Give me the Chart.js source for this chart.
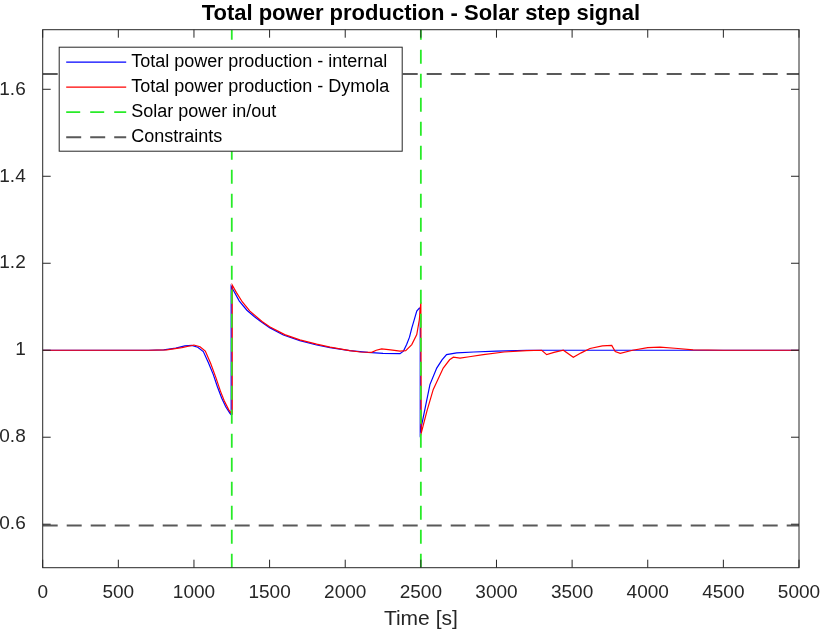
<!DOCTYPE html>
<html>
<head>
<meta charset="utf-8">
<script src="https://cdn.jsdelivr.net/npm/chart.js@4.4.1/dist/chart.umd.min.js"></script>
<style>
  html, body { margin: 0; padding: 0; background: #fff; }
  #wrap { width: 823px; height: 634px; }
</style>
</head>
<body>
<div id="wrap"><canvas id="powerChart"></canvas></div>
<script>
const xTicks = [0, 500, 1000, 1500, 2000, 2500, 3000, 3500, 4000, 4500, 5000];
const yTicks = [0.6, 0.8, 1, 1.2, 1.4, 1.6];
const xRange = [0, 5000];
const yRange = [0.5, 1.737];

const seriesLabels = [
    'Total power production - internal',
    'Total power production - Dymola',
    'Solar power in/out',
    'Constraints'
];

// internal model (blue)
const timeInternal = [0, 700, 800, 880, 940, 985, 1025, 1062, 1095, 1128, 1155, 1183, 1210, 1238, 1246,
    1246, 1265, 1300, 1350, 1400, 1437, 1500, 1591, 1700, 1811, 1900, 2030, 2150, 2250, 2362,
    2385, 2406, 2425, 2440, 2458, 2473, 2490, 2496, 2496, 2530, 2560, 2605, 2640, 2670, 2737,
    2850, 3000, 3200, 5000];
const powerInternal = [1.000, 1.000, 1.001, 1.005, 1.010, 1.011, 1.007, 0.997, 0.972, 0.944, 0.916, 0.890, 0.870, 0.855, 0.852,
    1.147, 1.135, 1.113, 1.092, 1.077, 1.067, 1.052, 1.035, 1.022, 1.012, 1.006, 0.999, 0.995, 0.993, 0.992,
    0.998, 1.013, 1.030, 1.051, 1.072, 1.090, 1.097, 1.097, 0.812, 0.870, 0.921, 0.959, 0.978, 0.990, 0.994,
    0.996, 0.998, 1.000, 1.000];

// Dymola model (red)
const timeDymola = [0, 700, 820, 920, 1000, 1040, 1075, 1110, 1145, 1175, 1200, 1230, 1252, 1253, 1280,
    1320, 1370, 1450, 1500, 1600, 1700, 1811, 1900, 2030, 2100, 2175, 2205, 2241, 2300, 2362,
    2400, 2440, 2473, 2490, 2500, 2503, 2540, 2582, 2648, 2690, 2715, 2759, 2820, 2913, 3050,
    3200, 3299, 3332, 3380, 3442, 3508, 3560, 3618, 3700, 3762, 3785, 3818, 3900, 4000, 4081,
    4200, 4300, 4500, 5000];
const powerDymola = [1.000, 1.000, 1.001, 1.006, 1.012, 1.008, 0.998, 0.970, 0.937, 0.906, 0.884, 0.863, 0.853, 1.150, 1.133,
    1.111, 1.090, 1.066, 1.054, 1.036, 1.024, 1.014, 1.007, 0.999, 0.996, 0.995, 1.000, 1.003, 1.001, 0.998,
    0.999, 1.013, 1.036, 1.070, 1.110, 0.810, 0.860, 0.910, 0.959, 0.978, 0.984, 0.982, 0.985, 0.990, 0.996,
    0.999, 1.000, 0.990, 0.995, 1.000, 0.984, 0.994, 1.004, 1.010, 1.011, 0.997, 0.993, 1.000, 1.006, 1.007,
    1.004, 1.001, 1.000, 1.000];

const solarSteps = [1250, 2500];
const constraintLevels = [0.597, 1.635];

const FONT = '"Liberation Sans", Arial, Helvetica, sans-serif';

function zip(xs, ys) {
    return xs.map((x, i) => ({ x: x, y: ys[i] }));
}

const datasets = [
    {
        label: seriesLabels[0],
        data: zip(timeInternal, powerInternal),
        borderColor: '#0000ff',
        borderWidth: 1.2,
        order: 4,
        inLegend: true
    },
    {
        label: seriesLabels[1],
        data: zip(timeDymola, powerDymola),
        borderColor: '#ff0000',
        borderWidth: 1.2,
        order: 3,
        inLegend: true
    }
];

solarSteps.forEach((t, i) => {
    datasets.push({
        label: seriesLabels[2],
        data: [{ x: t, y: yRange[0] }, { x: t, y: yRange[1] }],
        borderColor: 'rgb(40, 235, 40)',
        borderWidth: 1.8,
        borderDash: [14, 10],
        order: 2,
        inLegend: i === 0
    });
});

constraintLevels.forEach((c, i) => {
    datasets.push({
        label: seriesLabels[3],
        data: [{ x: xRange[0], y: c }, { x: xRange[1], y: c }],
        borderColor: '#595959',
        borderWidth: 2,
        borderDash: [15, 9],
        order: 1,
        inLegend: i === 0
    });
});

const framePlugin = {
    id: 'matlabFrame',
    afterDatasetsDraw(chart) {
        const ctx = chart.ctx;
        const a = chart.chartArea;
        const x = chart.scales.x, y = chart.scales.y;
        const tl = 8;
        ctx.save();
        ctx.strokeStyle = '#262626';
        ctx.lineWidth = 1;
        ctx.setLineDash([]);
        ctx.strokeRect(a.left, a.top, a.width, a.height);
        ctx.beginPath();
        xTicks.forEach(v => {
            const px = x.getPixelForValue(v);
            ctx.moveTo(px, a.bottom); ctx.lineTo(px, a.bottom - tl);
            ctx.moveTo(px, a.top); ctx.lineTo(px, a.top + tl);
        });
        yTicks.forEach(v => {
            const py = y.getPixelForValue(v);
            ctx.moveTo(a.left, py); ctx.lineTo(a.left + tl, py);
            ctx.moveTo(a.right, py); ctx.lineTo(a.right - tl, py);
        });
        ctx.stroke();
        ctx.restore();
    }
};

const legendPlugin = {
    id: 'insideLegend',
    afterDraw(chart) {
        const ctx = chart.ctx;
        const a = chart.chartArea;
        const x0 = a.left + 16.5, y0 = a.top + 17.5;
        const w = 343, h = 104;
        const entries = chart.data.datasets.filter(d => d.inLegend);
        ctx.save();
        ctx.fillStyle = '#ffffff';
        ctx.fillRect(x0, y0, w, h);
        ctx.strokeStyle = '#262626';
        ctx.lineWidth = 1;
        ctx.strokeRect(x0, y0, w, h);
        ctx.font = '18px ' + FONT;
        ctx.textBaseline = 'middle';
        ctx.textAlign = 'left';
        entries.forEach((d, i) => {
            const ly = y0 + 15 + i * 25;
            ctx.strokeStyle = d.borderColor;
            ctx.lineWidth = d.borderWidth;
            ctx.setLineDash(d.borderDash || []);
            ctx.beginPath();
            ctx.moveTo(x0 + 7, ly);
            ctx.lineTo(x0 + 67, ly);
            ctx.stroke();
            ctx.fillStyle = '#000000';
            ctx.fillText(d.label, x0 + 72, ly);
        });
        ctx.restore();
    }
};

const ctx = document.getElementById('powerChart').getContext('2d');

new Chart(ctx, {
    type: 'scatter',
    data: { datasets: datasets },
    options: {
        responsive: true,
        maintainAspectRatio: false,
        animation: false,
        showLine: true,
        layout: { padding: { left: 0, right: 24, top: 0, bottom: 0 } },
        elements: {
            point: { radius: 0, hoverRadius: 0 },
            line: { tension: 0, fill: false }
        },
        scales: {
            x: {
                type: 'linear',
                min: xRange[0],
                max: xRange[1],
                afterBuildTicks: scale => { scale.ticks = xTicks.map(v => ({ value: v })); },
                afterFit: scale => {
                    scale.height = 66.3;
                    scale.paddingLeft = 0;
                    scale.paddingRight = 0;
                },
                grid: { display: false },
                border: { display: false },
                ticks: {
                    color: '#262626',
                    font: { family: FONT, size: 19 },
                    padding: 6,
                    maxRotation: 0,
                    callback: v => String(v)
                },
                title: {
                    display: true,
                    text: 'Time [s]',
                    color: '#262626',
                    font: { family: FONT, size: 21 },
                    padding: { top: 0, bottom: 2 }
                }
            },
            y: {
                type: 'linear',
                min: yRange[0],
                max: yRange[1],
                afterBuildTicks: scale => { scale.ticks = yTicks.map(v => ({ value: v })); },
                afterFit: scale => { scale.width = 42.7; },
                grid: { display: false },
                border: { display: false },
                ticks: {
                    color: '#262626',
                    font: { family: FONT, size: 19 },
                    padding: 9,
                    callback: v => String(Math.round(v * 10) / 10)
                }
            }
        },
        plugins: {
            legend: { display: false },
            tooltip: { enabled: false },
            title: {
                display: true,
                text: 'Total power production - Solar step signal',
                color: '#000000',
                fullSize: false,
                font: { family: FONT, size: 22, weight: 'bold' },
                padding: { top: 1, bottom: 2.3 }
            }
        }
    },
    plugins: [framePlugin, legendPlugin]
});
</script>
</body>
</html>
